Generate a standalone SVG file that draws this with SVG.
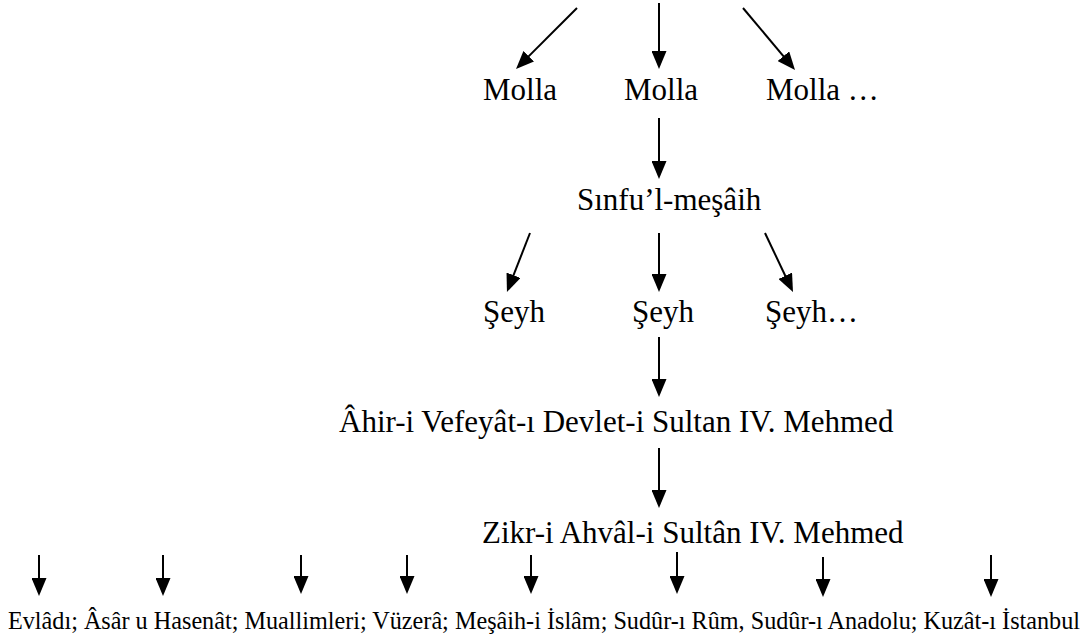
<svg xmlns="http://www.w3.org/2000/svg" width="1085" height="639" viewBox="0 0 1085 639">
  <style>
    .lbl { font-family: "Liberation Serif", "Times New Roman", serif; font-size: 31px; fill: #000; }
    .list { font-family: "Liberation Serif", "Times New Roman", serif; font-size: 24.2px; fill: #000; }
    .edge { stroke: #000; stroke-width: 2; fill: none; marker-end: url(#head); }
  </style>
  <defs>
    <marker id="head" markerUnits="userSpaceOnUse" markerWidth="18" markerHeight="15" refX="8" refY="7.5" orient="auto">
      <path d="M0,0 L18,7.5 L0,15 z" fill="#000"/>
    </marker>
  </defs>

  <rect width="1085" height="639" fill="#fff"/>

  <!-- connectors: lines stop 10px short, the marker tip carries on to the target -->
  <g id="connectors">
    <line class="edge" x1="577" y1="8" x2="523.1" y2="61.9"/>
    <line class="edge" x1="659" y1="3" x2="659" y2="59"/>
    <line class="edge" x1="743" y1="8" x2="788.6" y2="62.3"/>

    <line class="edge" x1="659" y1="118" x2="659" y2="169"/>

    <line class="edge" x1="530" y1="233" x2="510.6" y2="282.7"/>
    <line class="edge" x1="659" y1="233" x2="659" y2="282"/>
    <line class="edge" x1="765" y1="233" x2="788.7" y2="283"/>

    <line class="edge" x1="659" y1="337" x2="659" y2="387"/>
    <line class="edge" x1="659" y1="448" x2="659" y2="498"/>

    <line class="edge" x1="39" y1="555" x2="39" y2="586"/>
    <line class="edge" x1="163" y1="555" x2="163" y2="586"/>
    <line class="edge" x1="301" y1="555" x2="301" y2="584"/>
    <line class="edge" x1="407" y1="555" x2="407" y2="584"/>
    <line class="edge" x1="531" y1="555" x2="531" y2="584"/>
    <line class="edge" x1="677" y1="552" x2="677" y2="584"/>
    <line class="edge" x1="823" y1="557" x2="823" y2="587"/>
    <line class="edge" x1="991" y1="555" x2="991" y2="587"/>
  </g>

  <!-- nodes -->
  <g id="molla-1"><text class="lbl" x="483" y="100">Molla</text></g>
  <g id="molla-2"><text class="lbl" x="624" y="100">Molla</text></g>
  <g id="molla-3"><text class="lbl" x="766" y="100">Molla …</text></g>

  <g id="sinfu-l-mesaih"><text class="lbl" x="577" y="210">Sınfu’l-meşâih</text></g>

  <g id="seyh-1"><text class="lbl" x="483" y="322">Şeyh</text></g>
  <g id="seyh-2"><text class="lbl" x="632" y="322">Şeyh</text></g>
  <g id="seyh-3"><text class="lbl" x="765" y="322">Şeyh…</text></g>

  <g id="ahir-i-vefeyat"><text class="lbl" x="339" y="432">Âhir-i Vefeyât-ı Devlet-i Sultan IV. Mehmed</text></g>

  <g id="zikr-i-ahval"><text class="lbl" x="482" y="543">Zikr-i Ahvâl-i Sultân IV. Mehmed</text></g>

  <g id="sections"><text class="list" x="8" y="629">Evlâdı; Âsâr u Hasenât; Muallimleri; Vüzerâ; Meşâih-i İslâm; Sudûr-ı Rûm, Sudûr-ı Anadolu; Kuzât-ı İstanbul</text></g>
</svg>
